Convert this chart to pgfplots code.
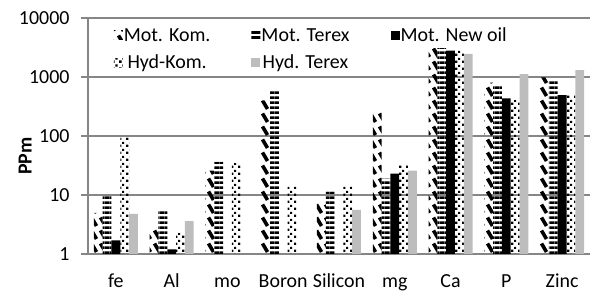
\documentclass[border=0pt]{standalone}
\usepackage{fontspec}
\setmainfont{Carlito}
\usepackage{pgfplots}
\pgfplotsset{compat=1.18}
\usetikzlibrary{patterns}
\definecolor{axgray}{RGB}{134,134,134}

\pgfdeclarepatternformonly{motkom}{\pgfqpoint{-2bp}{-2bp}}{\pgfqpoint{11bp}{15bp}}{\pgfqpoint{9bp}{13bp}}{
  \pgfsetlinewidth{3.6bp}
  \pgfpathmoveto{\pgfqpoint{1.5bp}{11.5bp}}
  \pgfpathlineto{\pgfqpoint{6.5bp}{3bp}}
  \pgfusepath{stroke}}
\pgfdeclarepatternformonly{motterex}{\pgfqpoint{0bp}{0bp}}{\pgfqpoint{5bp}{5bp}}{\pgfqpoint{5bp}{5bp}}{
  \pgfpathrectangle{\pgfqpoint{-0.5bp}{0bp}}{\pgfqpoint{6bp}{3.2bp}}
  \pgfusepath{fill}}
\pgfdeclarepatternformonly{hydkom}{\pgfqpoint{0bp}{0bp}}{\pgfqpoint{7bp}{7bp}}{\pgfqpoint{7bp}{7bp}}{
  \pgfpathrectangle{\pgfqpoint{0bp}{0bp}}{\pgfqpoint{2.8bp}{2.8bp}}
  \pgfpathrectangle{\pgfqpoint{3.5bp}{3.5bp}}{\pgfqpoint{2.4bp}{2.4bp}}
  \pgfusepath{fill}}

\begin{document}
\begin{tikzpicture}
\path[use as bounding box] (-88bp,-40bp) rectangle (503bp,254bp);
\begin{axis}[
  scale only axis,
  width=502bp, height=236bp,
  ymode=log, ymin=1, ymax=10000,
  xmin=-0.5, xmax=8.5,
  xtick={0,...,8},
  xticklabels={fe,Al,mo,Boron,Silicon,mg,Ca,P,Zinc},
  ytick={1,10,100,1000,10000},
  yticklabels={1,10,100,1000,10000},
  log basis y=10,
  axis x line*=bottom, axis y line*=left,
  axis line style={axgray, line width=1.2bp, -},
  ymajorgrids, grid style={axgray, line width=1.2bp},
  x tick style={draw=none},
  y tick style={axgray, line width=1.2bp},
  major tick length=7bp,
  tick align=outside,
  every tick label/.append style={font=\fontsize{20}{23}\selectfont, text=black},
  /pgf/number format/assume math mode=true,
  xticklabel style={anchor=base, yshift=-27bp},
  yticklabel style={xshift=-8bp},
  ylabel={\bfseries PPm},
  ylabel style={font=\fontsize{20}{23}\selectfont, at={(axis description cs:-0.125,0.415)}, anchor=center},
  ybar=0pt, bar width=8.8bp,
  log origin=infty,
  legend columns=3,
  legend style={draw=none, fill=none, at={(axis description cs:0.045,0.972)}, anchor=north west,
    font=\fontsize{20}{23}\selectfont, row sep=10bp,
    /tikz/every even column/.append style={column sep=40bp},
    /tikz/every odd column/.append style={column sep=0bp},
    nodes={inner sep=1bp}},
  legend image code/.code={\path[#1,draw=none] (0bp,-4.5bp) rectangle (9bp,4.5bp);},
]
\addplot[draw=none, pattern=motkom] coordinates {(0,5.0) (1,2.7) (2,26) (3,400) (4,7.7) (5,275) (6,3080) (7,800) (8,985)};
\addplot[draw=none, pattern=motterex] coordinates {(0,10) (1,5.6) (2,36.6) (3,600) (4,11.4) (5,19) (6,3100) (7,730) (8,910)};
\addplot[draw=none, fill=black] coordinates {(0,1.7) (1,1.2) (5,23) (6,2800) (7,435) (8,495)};
\addplot[draw=none, pattern=hydkom] coordinates {(0,95) (1,2.3) (2,35) (3,13.8) (4,13.8) (5,32) (6,2870) (7,406) (8,495)};
\addplot[draw=none, fill=gray!52] coordinates {(0,4.8) (1,3.6) (4,5.6) (5,26) (6,2460) (7,1120) (8,1310)};
\legend{Mot. Kom., Mot. Terex, Mot. New oil, Hyd-Kom., Hyd. Terex}
\end{axis}
\end{tikzpicture}
\end{document}
